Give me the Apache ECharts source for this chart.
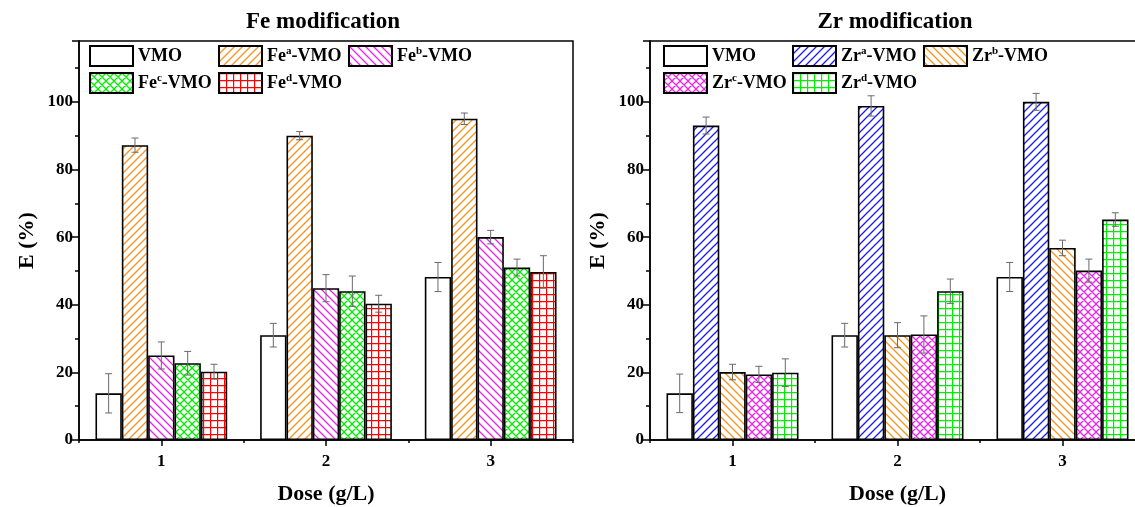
<!DOCTYPE html>
<html>
<head>
<meta charset="utf-8">
<script src="https://cdn.jsdelivr.net/npm/echarts@6/dist/echarts.min.js"></script>
<style>
  html, body { margin: 0; padding: 0; background: #fff; }
  #chart { width: 1135px; height: 507px; }
</style>
</head>
<body>
<div id="chart"></div>
<script>
// Dose categories (g/L)
const doses = ['1', '2', '3'];
const yTicks = [0, 20, 40, 60, 80, 100];

// Fe-modified adsorbents: removal efficiency E (%) and standard deviation
const feVMO = [13.8, 31.0, 48.2];
const feVMOErr = [5.8, 3.5, 4.3];
const feA = [87.2, 90.0, 95.0];
const feAErr = [2.1, 1.2, 1.7];
const feB = [25.0, 44.9, 60.0];
const feBErr = [4.0, 4.0, 2.0];
const feC = [22.7, 44.0, 51.0];
const feCErr = [3.5, 4.5, 2.5];
const feD = [20.2, 40.3, 49.7];
const feDErr = [2.2, 2.5, 4.8];

// Zr-modified adsorbents
const zrVMO = [13.8, 31.0, 48.2];
const zrVMOErr = [5.7, 3.5, 4.3];
const zrA = [93.0, 98.8, 100.0];
const zrAErr = [2.5, 3.0, 2.5];
const zrB = [20.1, 31.0, 56.8];
const zrBErr = [2.3, 3.7, 2.3];
const zrC = [19.4, 31.2, 50.1];
const zrCErr = [2.4, 5.5, 3.4];
const zrD = [19.9, 44.0, 65.2];
const zrDErr = [4.1, 3.6, 2.0];

const FONT = "'Liberation Serif', 'DejaVu Serif', serif";

// Hatch fills drawn on small canvas tiles
function hatch(kind, color) {
  const s = kind === 'grid' ? 7 : 8;
  const c = document.createElement('canvas');
  c.width = s; c.height = s;
  const g = c.getContext('2d');
  g.fillStyle = '#fff';
  g.fillRect(0, 0, s, s);
  g.strokeStyle = color;
  g.lineWidth = 1.3;
  g.beginPath();
  const fwd = () => {
    g.moveTo(-1, s + 1); g.lineTo(s + 1, -1);
    g.moveTo(-1, 1); g.lineTo(1, -1);
    g.moveTo(s - 1, s + 1); g.lineTo(s + 1, s - 1);
  };
  const back = () => {
    g.moveTo(-1, -1); g.lineTo(s + 1, s + 1);
    g.moveTo(s - 1, -1); g.lineTo(s + 1, 1);
    g.moveTo(-1, s - 1); g.lineTo(1, s + 1);
  };
  if (kind === 'fwd') fwd();
  if (kind === 'back') back();
  if (kind === 'cross') { fwd(); back(); }
  if (kind === 'grid') {
    g.lineWidth = 1.2;
    g.moveTo(0.6, 0); g.lineTo(0.6, s);
    g.moveTo(0, 0.6); g.lineTo(s, 0.6);
  }
  g.stroke();
  return { image: c, repeat: 'repeat' };
}

const ORANGE = '#F7931E', MAGENTA = '#F020F0', GREEN = '#00EE00', RED = '#FF0000', BLUE = '#1A1AFF';

// Series keys -> legend labels (rich text with superscripts)
const labels = {
  'VMO (Fe)': '{t|VMO}',
  'Fe-a': '{t|Fe}{s|a}{t|-VMO}',
  'Fe-b': '{t|Fe}{s|b}{t|-VMO}',
  'Fe-c': '{t|Fe}{s|c}{t|-VMO}',
  'Fe-d': '{t|Fe}{s|d}{t|-VMO}',
  'VMO (Zr)': '{t|VMO}',
  'Zr-a': '{t|Zr}{s|a}{t|-VMO}',
  'Zr-b': '{t|Zr}{s|b}{t|-VMO}',
  'Zr-c': '{t|Zr}{s|c}{t|-VMO}',
  'Zr-d': '{t|Zr}{s|d}{t|-VMO}'
};

const panels = [
  {
    sets: [
      ['VMO (Fe)', feVMO, feVMOErr, '#fff'],
      ['Fe-a', feA, feAErr, hatch('fwd', ORANGE)],
      ['Fe-b', feB, feBErr, hatch('back', MAGENTA)],
      ['Fe-c', feC, feCErr, hatch('cross', GREEN)],
      ['Fe-d', feD, feDErr, hatch('grid', RED)]
    ]
  },
  {
    sets: [
      ['VMO (Zr)', zrVMO, zrVMOErr, '#fff'],
      ['Zr-a', zrA, zrAErr, hatch('fwd', BLUE)],
      ['Zr-b', zrB, zrBErr, hatch('back', ORANGE)],
      ['Zr-c', zrC, zrCErr, hatch('cross', MAGENTA)],
      ['Zr-d', zrD, zrDErr, hatch('grid', GREEN)]
    ]
  }
];

const series = [];
panels.forEach((p, pi) => {
  const errItems = [];
  p.sets.forEach(([name, vals, errs, fill], slot) => {
    series.push({
      type: 'bar',
      name: name,
      data: vals,
      xAxisIndex: pi,
      yAxisIndex: pi,
      barGap: '0%',
      barCategoryGap: '20%',
      itemStyle: { color: fill, borderColor: '#000', borderWidth: 1.6 },
      emphasis: { disabled: true },
      animation: false
    });
    vals.forEach((v, ci) => errItems.push([ci, slot, v, errs[ci]]));
  });
  // Error bars centred on each bar
  series.push({
    type: 'custom',
    xAxisIndex: pi,
    yAxisIndex: pi,
    data: errItems,
    encode: { x: 0, y: 2 },
    z: 10,
    silent: true,
    animation: false,
    renderItem: function (params, api) {
      const ci = api.value(0), slot = api.value(1), v = api.value(2), e = api.value(3);
      const catW = api.size([1, 0])[0];
      const bw = catW * 0.8 / 5;
      const cx = api.coord([ci, v])[0] + (slot - 2) * bw;
      const yt = api.coord([ci, v + e])[1];
      const yb = api.coord([ci, v - e])[1];
      const cap = 3.5;
      const st = { stroke: '#6a6a6a', lineWidth: 1 };
      return {
        type: 'group',
        children: [
          { type: 'line', shape: { x1: cx, y1: yt, x2: cx, y2: yb }, style: st },
          { type: 'line', shape: { x1: cx - cap, y1: yt, x2: cx + cap, y2: yt }, style: st },
          { type: 'line', shape: { x1: cx - cap, y1: yb, x2: cx + cap, y2: yb }, style: st }
        ]
      };
    }
  });
});

const grids = [
  { left: 79, top: 41, width: 494, height: 399 },
  { left: 650, top: 41, width: 495, height: 399 }
];

function valueAxis(gi) {
  return {
    type: 'value',
    gridIndex: gi,
    min: 0,
    max: 118,
    interval: 20,
    name: 'E (%)',
    nameLocation: 'middle',
    nameGap: 41,
    nameTextStyle: { fontFamily: FONT, fontWeight: 'bold', fontSize: 22, color: '#000' },
    axisLine: { show: true, lineStyle: { color: '#000', width: 1.5 } },
    axisTick: { show: true, inside: false, length: 7, lineStyle: { color: '#000', width: 1.5 } },
    minorTick: { show: true, splitNumber: 2, length: 4, lineStyle: { color: '#000', width: 1.5 } },
    splitLine: { show: false },
    axisLabel: {
      fontFamily: FONT, fontWeight: 'bold', fontSize: 17, color: '#000', margin: 6,
      formatter: v => (yTicks.indexOf(v) >= 0 ? String(v) : '')
    }
  };
}

function catAxis(gi) {
  return {
    type: 'category',
    gridIndex: gi,
    data: doses,
    name: 'Dose (g/L)',
    nameLocation: 'middle',
    nameGap: 43,
    nameTextStyle: { fontFamily: FONT, fontWeight: 'bold', fontSize: 22, color: '#000' },
    axisLine: { show: true, lineStyle: { color: '#000', width: 1.5 } },
    axisTick: { show: true, alignWithLabel: true, interval: 0, length: 6, lineStyle: { color: '#000', width: 1.5 } },
    axisLabel: { fontFamily: FONT, fontWeight: 'bold', fontSize: 17, color: '#000', margin: 13 }
  };
}

// Short ticks on the category boundaries
function boundaryAxis(gi) {
  return {
    type: 'category',
    gridIndex: gi,
    data: doses,
    position: 'bottom',
    axisLine: { show: false },
    axisTick: { show: true, alignWithLabel: false, interval: 0, length: 3, lineStyle: { color: '#000', width: 1.5 } },
    axisLabel: { show: false }
  };
}

const legendText = {
  rich: {
    t: { fontFamily: FONT, fontWeight: 'bold', fontSize: 18, lineHeight: 20, color: '#000' },
    s: { fontFamily: FONT, fontWeight: 'bold', fontSize: 11, lineHeight: 10, color: '#000', verticalAlign: 'top' }
  }
};

function legendItem(name, left, top) {
  return {
    data: [name],
    left: left,
    top: top,
    icon: 'rect',
    itemWidth: 43,
    itemHeight: 20,
    itemGap: 0,
    padding: 0,
    selectedMode: false,
    itemStyle: { borderColor: '#000', borderWidth: 2 },
    textStyle: legendText,
    formatter: n => labels[n]
  };
}

const option = {
  backgroundColor: '#fff',
  animation: false,
  title: [
    { text: 'Fe modification', left: 318, top: 6, textAlign: 'center',
      textStyle: { fontFamily: FONT, fontWeight: 'bold', fontSize: 23, color: '#000' } },
    { text: 'Zr modification', left: 890, top: 6, textAlign: 'center',
      textStyle: { fontFamily: FONT, fontWeight: 'bold', fontSize: 23, color: '#000' } }
  ],
  grid: grids.map(g => Object.assign({
    show: true, borderColor: '#000', borderWidth: 1.5, backgroundColor: 'transparent',
    outerBoundsMode: 'none', containLabel: false
  }, g)),
  xAxis: [catAxis(0), catAxis(1), boundaryAxis(0), boundaryAxis(1)],
  yAxis: [valueAxis(0), valueAxis(1)],
  legend: [
    legendItem('VMO (Fe)', 89, 45),
    legendItem('Fe-a', 218, 45),
    legendItem('Fe-b', 348, 45),
    legendItem('Fe-c', 89, 72),
    legendItem('Fe-d', 218, 72),
    legendItem('VMO (Zr)', 663, 45),
    legendItem('Zr-a', 792, 45),
    legendItem('Zr-b', 923, 45),
    legendItem('Zr-c', 663, 72),
    legendItem('Zr-d', 792, 72)
  ],
  series: series
};

const chart = echarts.init(document.getElementById('chart'), null, { renderer: 'canvas' });
chart.setOption(option);
</script>
</body>
</html>
